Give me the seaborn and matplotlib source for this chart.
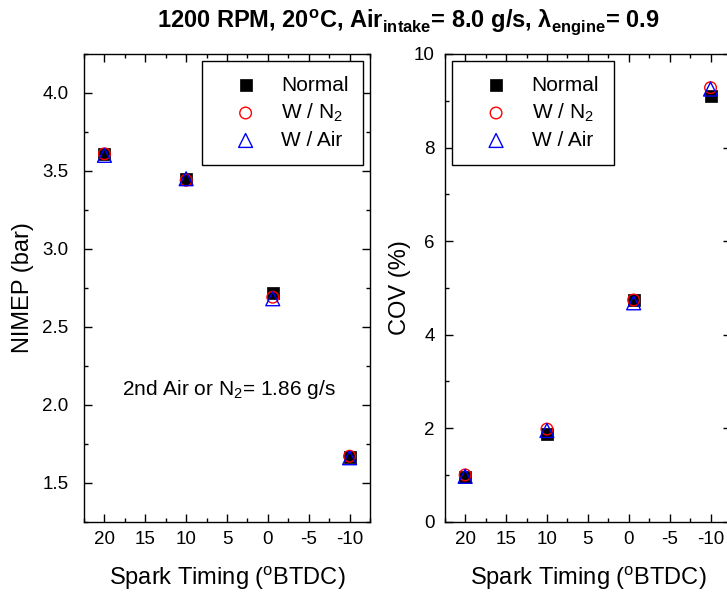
import matplotlib
matplotlib.use("Agg")
import matplotlib.pyplot as plt
from matplotlib.ticker import MultipleLocator, FormatStrFormatter
import seaborn as sns

sns.set_style("ticks")
plt.rcParams["font.family"] = ["Liberation Sans", "DejaVu Sans"]
plt.rcParams["axes.unicode_minus"] = False
for key in ["text.color", "axes.labelcolor", "xtick.color", "ytick.color", "axes.edgecolor"]:
    plt.rcParams[key] = "black"

# spark timing (deg BTDC)
spark = [20, 10, -0.6, -10]

# NIMEP (bar)
nimep_normal = [3.61, 3.45, 2.72, 1.665]
nimep_n2 = [3.61, 3.44, 2.69, 1.67]
nimep_air = [3.60, 3.45, 2.68, 1.66]

# COV of IMEP (%)
cov_normal = [0.95, 1.87, 4.74, 9.10]
cov_n2 = [1.00, 1.98, 4.74, 9.28]
cov_air = [0.97, 1.95, 4.68, 9.25]

series_labels = ["Normal", "W / N$_\\mathregular{2}$", "W / Air"]

fig = plt.figure(figsize=(7.27, 5.96), dpi=100)
ax1 = fig.add_axes([84/727, 74.3/596, 286/727, 467.7/596])
ax2 = fig.add_axes([444.7/727, 74.3/596, 286.3/727, 467.7/596])

legend_kw = dict(fontsize=15, frameon=True, fancybox=False, edgecolor="black", framealpha=1,
                 borderpad=0.7, labelspacing=0.33, handlelength=2.8, handletextpad=0.31,
                 borderaxespad=0, bbox_transform=fig.transFigure)


def draw(ax, y_normal, y_n2, y_air):
    sns.scatterplot(x=spark, y=y_normal, ax=ax, marker="s", s=64, color="black",
                    edgecolor="black", linewidth=0.5, label=series_labels[0], zorder=3)
    sns.scatterplot(x=spark, y=y_n2, ax=ax, marker="o", s=70, facecolor="none",
                    edgecolor="red", linewidth=1.0, label=series_labels[1], zorder=4)
    sns.scatterplot(x=spark, y=y_air, ax=ax, marker="^", s=100, facecolor="none",
                    edgecolor="blue", linewidth=1.0, label=series_labels[2], zorder=5)
    ax.set_xlim(22.5, -12.5)
    ax.xaxis.set_major_locator(MultipleLocator(5))
    ax.xaxis.set_minor_locator(MultipleLocator(2.5))
    ax.tick_params(which="both", direction="in", top=True, right=True,
                   labelsize=13.5, width=1, color="black")
    ax.tick_params(which="major", length=5.8)
    ax.tick_params(which="minor", length=2.9)
    ax.tick_params(axis="x", pad=6.5)
    for sp in ax.spines.values():
        sp.set_color("black")
        sp.set_linewidth(1.0)
    ax.set_xlabel("Spark Timing ($^\\mathregular{o}$BTDC)", fontsize=17, labelpad=12)


draw(ax1, nimep_normal, nimep_n2, nimep_air)
ax1.set_ylim(1.25, 4.25)
ax1.yaxis.set_major_locator(MultipleLocator(0.5))
ax1.yaxis.set_minor_locator(MultipleLocator(0.25))
ax1.yaxis.set_major_formatter(FormatStrFormatter("%.1f"))
ax1.tick_params(axis="y", pad=11)
ax1.set_ylabel("NIMEP (bar)", fontsize=17, labelpad=6)
ax1.text(0.506, 0.271, "2nd Air or N$_\\mathregular{2}$= 1.86 g/s", transform=ax1.transAxes,
         ha="center", va="baseline", fontsize=15)
leg1 = ax1.legend(loc="upper right", bbox_to_anchor=(363.3/727, 1 - 61/596), **legend_kw)
leg1.get_frame().set_linewidth(1.0)

draw(ax2, cov_normal, cov_n2, cov_air)
ax2.set_ylim(0, 10)
ax2.yaxis.set_major_locator(MultipleLocator(2))
ax2.yaxis.set_minor_locator(MultipleLocator(1))
ax2.tick_params(axis="y", pad=7)
ax2.set_ylabel("COV (%)", fontsize=17, labelpad=2.5)
leg2 = ax2.legend(loc="upper left", bbox_to_anchor=(452.3/727, 1 - 61/596), **legend_kw)
leg2.get_frame().set_linewidth(1.0)

fig.text(408/727, 1 - 28.3/596,
         "1200 RPM, 20$^\\mathregular{o}$C, Air$_\\mathregular{intake}$= 8.0 g/s, "
         "λ$_\\mathregular{engine}$= 0.9",
         ha="center", va="baseline", fontsize=17, fontweight="bold")

fig.savefig("out.png", dpi=100)
